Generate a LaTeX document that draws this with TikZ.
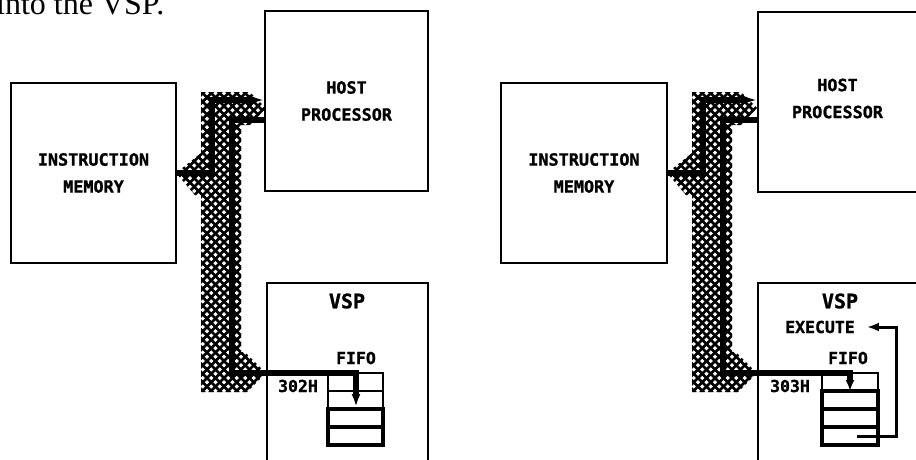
\documentclass[tikz,border=0pt]{standalone}
\usepackage{fontspec}
\newfontfamily\drafting[BoldFeatures={FakeBold=1.2}]{DejaVu Sans Mono}
\newfontfamily\bodyserif{Liberation Serif}
\usetikzlibrary{arrows.meta,positioning}

\tikzset{
  blockbox/.style={draw,line width=1.8pt,inner sep=0pt,align=center,
    font=\drafting\bfseries\fontsize{16.8}{27}\selectfont},
  tag/.style={inner sep=0pt,font=\drafting\bfseries\fontsize{16.5}{20}\selectfont},
  bigtag/.style={inner sep=0pt,font=\drafting\bfseries\fontsize{20}{24}\selectfont},
  bus/.style={line width=5.5pt},
  execline/.style={line width=3pt},
  hatchline/.style={line width=2.6pt},
  cell/.style={draw,line width=1.6pt},
  fullcell/.style={draw,line width=3.6pt}
}

\begin{document}
\begin{tikzpicture}[x=1pt,y=-1pt]
        \useasboundingbox (0,0) rectangle (916,459);
        \clip (0,0) rectangle (916,459);
        % text line above
        \node[anchor=base west,inner sep=0pt,font=\bodyserif\fontsize{32}{32}\selectfont] (intro) at (-4,14) {into the VSP.};

        % ---- left: write 302H ----
        % blocks
        \node[blockbox,minimum width=165pt,minimum height=180pt] (memL) at (93.5,173) {INSTRUCTION\\MEMORY};
        \node[blockbox,minimum width=163pt,minimum height=180pt] (hostL) at (346.5,101) {HOST\\PROCESSOR};
        \node[blockbox,anchor=north west,minimum width=161pt,minimum height=200pt] (vspL) at (266,282) {};
        \node[bigtag] (vsptL) at (347,301) {VSP};
        % system bus (cross hatched)
        \begin{scope}
        \clip (201,92) -- (250,92) -- (266,108) -- (250,125) -- (241,125) -- (241,352) -- (245,352)
            -- (266,373) -- (247,392) -- (201,392) -- (201,195) -- (195,195) -- (176,173) -- (201,153) -- cycle;
        \foreach \c in {-222,-213.5,...,180} \draw[hatchline] (\c,0) -- ++(500,500);
        \foreach \c in {262,270.5,...,665} \draw[hatchline] (\c,0) -- ++(-500,500);
        \end{scope}
        % fifo
        \draw[cell] (328,373) rectangle (383,391);
        \draw[cell] (328,391) rectangle (383,409);
        \draw[fullcell] (328,409) rectangle (383,427);
        \draw[fullcell] (328,427) rectangle (383,445);
        \node[tag] (fifoL) at (356,358) {FIFO};
        \node[tag] (adrL) at (298,386) {302H};
        % data paths
        \coordinate (aL) at (212,100);
        \coordinate (bL) at (232,120);
        \coordinate (fL) at (356,373);
        \draw[bus,-{Latex[length=15pt,width=10pt]}] (memL.east) -| (aL) -- (aL -| hostL.west);
        \draw[bus,-{Latex[length=13pt,width=9pt]}] (bL -| hostL.west) -- (bL) |- (fL) -- ++(0,34);

        % ---- right: write 303H ----
        \begin{scope}[xshift=491pt]
        % blocks
        \node[blockbox,minimum width=166pt,minimum height=180pt] (memR) at (93,173) {INSTRUCTION\\MEMORY};
        \node[blockbox,anchor=north west,minimum width=170pt,minimum height=180pt] (hostR) at (266,11) {};
        \node[blockbox,anchor=north west,minimum width=170pt,minimum height=200pt] (vspR) at (266,282) {};
        \node[blockbox,draw=none] (hosttR) at (346.5,98.5) {HOST\\PROCESSOR};
        \node[bigtag] (vsptR) at (349,301) {VSP};
        % system bus (cross hatched)
        \begin{scope}
        \clip (201,92) -- (250,92) -- (266,108) -- (250,125) -- (241,125) -- (241,352) -- (245,352)
            -- (266,373) -- (247,392) -- (201,392) -- (201,195) -- (195,195) -- (176,173) -- (201,153) -- cycle;
        \foreach \c in {-222,-213.5,...,180} \draw[hatchline] (\c,0) -- ++(500,500);
        \foreach \c in {262,270.5,...,665} \draw[hatchline] (\c,0) -- ++(-500,500);
        \end{scope}
        % fifo
        \draw[cell] (331,373) rectangle (387,391);
        \draw[fullcell] (331,391) rectangle (387,409);
        \draw[fullcell] (331,409) rectangle (387,427);
        \draw[fullcell] (331,427) rectangle (387,445);
        \node[tag] (fifoR) at (357,358) {FIFO};
        \node[tag] (adrR) at (299,386) {303H};
        \node[tag] (exec) at (329,327) {EXECUTE};
        % data paths
        \coordinate (aR) at (212,100);
        \coordinate (bR) at (232,120);
        \coordinate (fR) at (359,373);
        \coordinate (exsrc) at (366,436);
        \draw[bus,-{Latex[length=15pt,width=10pt]}] (memR.east) -| (aR) -- (aR -| hostR.west);
        \draw[bus,-{Latex[length=11pt,width=9pt]}] (bR -| hostR.west) -- (bR) |- (fR) -- ++(0,18);
        \draw[execline,-{Latex[length=12pt,width=9pt]}] (exsrc) -| ([xshift=42pt]exec.east) -- ([xshift=12pt]exec.east);
        \end{scope}
    \end{tikzpicture}
\end{document}
